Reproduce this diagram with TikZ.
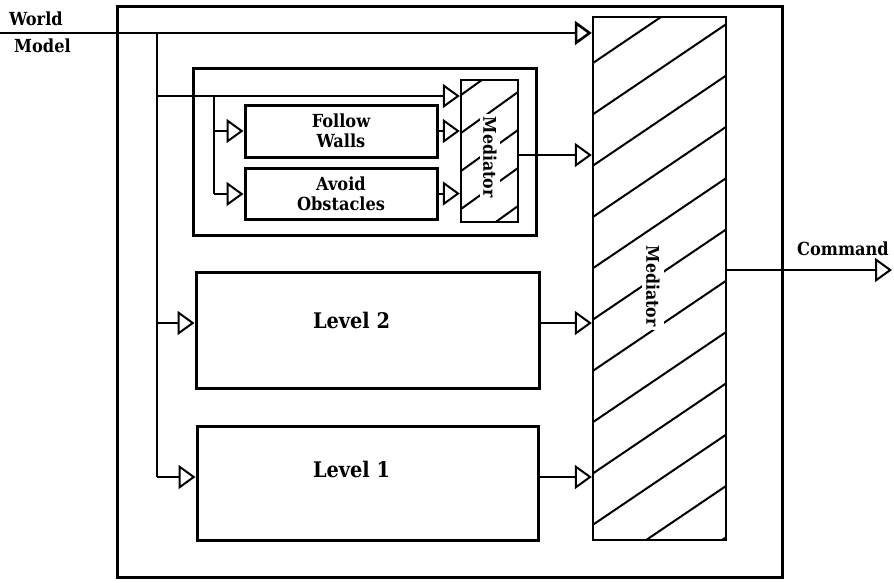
\documentclass[tikz,border=0pt]{standalone}
\usepackage{fontspec}
\setmainfont{DejaVu Serif Condensed}
\usetikzlibrary{arrows.meta}
\begin{document}
\begin{tikzpicture}[x=1pt,y=-1pt,
  thickbox/.style={draw, line width=3pt, inner sep=0pt},
  medbox/.style={draw, line width=2.4pt, inner sep=0pt},
  conn/.style={line width=2pt},
  arr/.style={line width=2pt, -{Triangle[open,length=17pt,width=24pt]}},
  lbl/.style={font=\fontsize{18}{20}\selectfont\bfseries, align=center, inner sep=1pt},
  lvl/.style={font=\fontsize{21.5}{25}\selectfont\bfseries},
  medtext/.style={font=\fontsize{17.5}{19}\selectfont\bfseries, rotate=-90, fill=white, inner sep=4pt},
  hatch/.style={line width=2pt},
]
\useasboundingbox (0,0) rectangle (894,582);

% boxes
\node[thickbox, minimum width=665pt, minimum height=571pt] (outer) at (449.5,291.5) {};
\node[medbox, minimum width=133pt, minimum height=523pt] (BM) at (659.5,278.5) {};
\node[thickbox, minimum width=343pt, minimum height=167pt] (L3) at (364.5,151.5) {};
\node[thickbox, minimum width=192pt, minimum height=52pt, lbl] (FW) at (341,131) {Follow\\Walls};
\node[thickbox, minimum width=192pt, minimum height=51pt, lbl] (AO) at (341,193.5) {Avoid\\Obstacles};
\node[medbox, minimum width=57pt, minimum height=142pt] (SM) at (489.5,151) {};
\node[thickbox, minimum width=343pt, minimum height=116pt,
      label={[lvl, yshift=10pt, xshift=-16pt]center:Level 2}] (L2) at (367.5,330) {};
\node[thickbox, minimum width=341pt, minimum height=114pt,
      label={[lvl, yshift=14pt, xshift=-16pt]center:Level 1}] (L1) at (367.5,483) {};

% hatching big mediator
\begin{scope}
  \clip (593,17) rectangle (726,540);
  \foreach \k in {-1,...,11} {
    \pgfmathsetmacro\yl{63+51.3*\k}
    \draw[hatch] (593,\yl) -- (726,\yl-90);
  }
\end{scope}
% hatching small mediator
\begin{scope}
  \clip (461,80) rectangle (518,222);
  \foreach \k in {-1,...,4} {
    \pgfmathsetmacro\yl{95+38*\k}
    \draw[hatch] (461,\yl) -- (518,\yl-41);
  }
\end{scope}
\node[medbox, minimum width=133pt, minimum height=523pt] at (659.5,278.5) {};
\node[medbox, minimum width=57pt, minimum height=142pt] at (489.5,151) {};

\node[medtext] (BMt) at (653,286) {Mediator};
\node[medtext, inner sep=3pt] (SMt) at (490,157) {Mediator};

% labels
\node[lbl, anchor=west] (world) at (8,19) {World};
\node[lbl, anchor=west] (model) at (13,46) {Model};
\node[lbl] (command) at (843,249) {Command};

% coordinates
\coordinate (wm) at (0,33);
\coordinate (b1top) at (157,33);
\coordinate (b1bot) at (157,477);
\coordinate (br) at (157,96);
\coordinate (b2top) at (214,96);
\coordinate (b2fw) at (214,131);
\coordinate (b2bot) at (214,194);
\coordinate (l2y) at (157,323);
\coordinate (smo) at (0,155);
\coordinate (cmd) at (892,270);

% connectors
\draw[arr, line width=2.6pt] (wm) -- (BM.west |- wm);
\draw[conn] (b1top) -- (b1bot);
\draw[arr] (br) -- (SM.west |- br);
\draw[conn] (b2top) -- (b2bot);
\draw[arr] (b2fw) -- (FW.west |- b2fw);
\draw[arr] (b2bot) -- (AO.west |- b2bot);
\draw[arr] (FW.east) -- (SM.west |- FW.east);
\draw[arr] (AO.east) -- (SM.west |- AO.east);
\draw[arr] (SM.east |- smo) -- (BM.west |- smo);
\draw[arr] (l2y) -- (L2.west |- l2y);
\draw[arr] (L2.east |- l2y) -- (BM.west |- l2y);
\draw[arr] (b1bot) -- (L1.west |- b1bot);
\draw[arr] (L1.east |- b1bot) -- (BM.west |- b1bot);
\draw[arr] (BM.east |- cmd) -- (cmd);
\end{tikzpicture}
\end{document}
